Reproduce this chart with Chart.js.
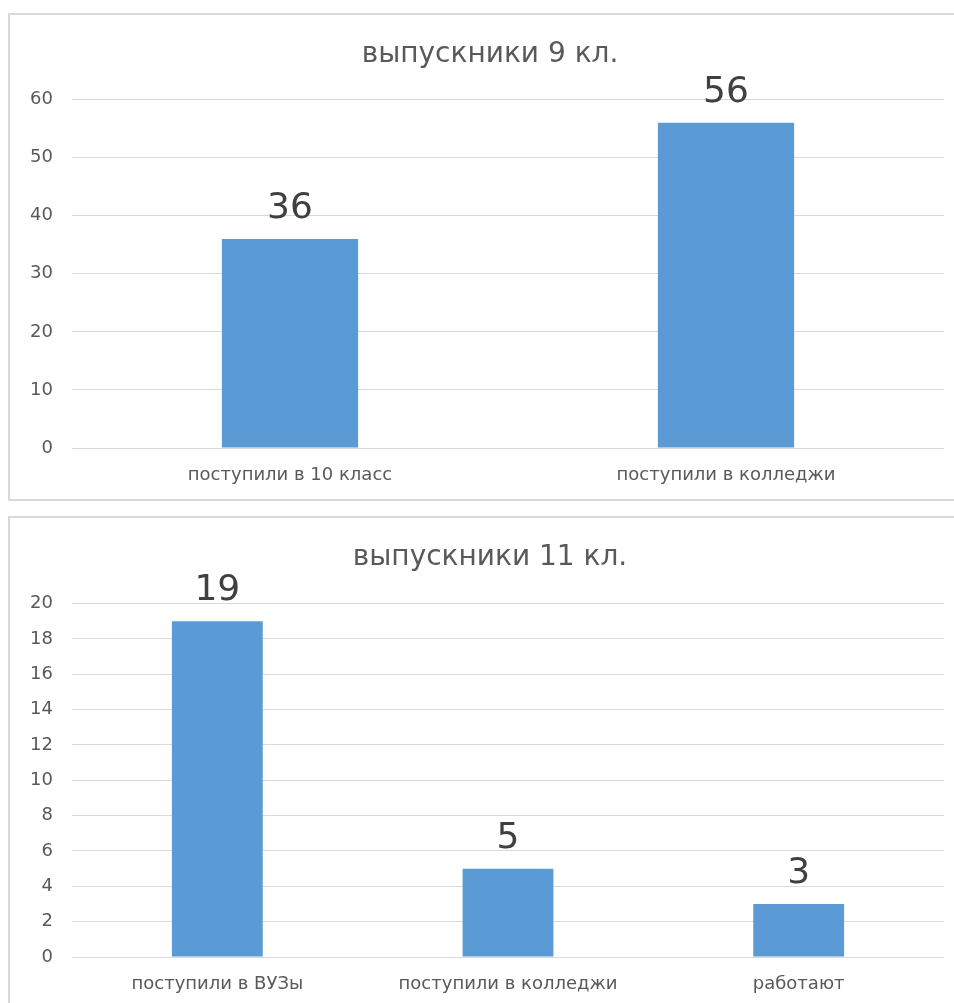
<!DOCTYPE html>
<html>
<head>
<meta charset="utf-8">
<script src="https://cdn.jsdelivr.net/npm/chart.js@4.4.1/dist/chart.umd.min.js"></script>
<style>
  body { margin: 0; background: #fff; overflow: hidden; }
  .box { position: absolute; left: 8px; border: 2px solid #d9d9d9; background: #fff; }
  #box9 { top: 13px; width: 948px; height: 484px; }
  #box11 { top: 516px; width: 948px; height: 490px; }
</style>
</head>
<body>
<div class="box" id="box9"><canvas id="chart9"></canvas></div>
<div class="box" id="box11"><canvas id="chart11"></canvas></div>
<script>
// выпускники 9 кл.
const categories9 = ['поступили в 10 класс', 'поступили в колледжи'];
const values9 = [36, 56];
const yTicks9 = [0, 10, 20, 30, 40, 50, 60];

// выпускники 11 кл.
const categories11 = ['поступили в ВУЗы', 'поступили в колледжи', 'работают'];
const values11 = [19, 5, 3];
const yTicks11 = [0, 2, 4, 6, 8, 10, 12, 14, 16, 18, 20];

const textColor = '#595959';
const fontFamily = "'DejaVu Sans', sans-serif";

// value labels above the bars
const barLabels = {
    id: 'barLabels',
    afterLayout(chart) {
        // title sits a little right of the canvas centre, like the original
        if (chart.titleBlock) chart.titleBlock.left += 26;
    },
    afterDatasetsDraw(chart) {
        const ctx = chart.ctx;
        const meta = chart.getDatasetMeta(0);
        ctx.save();
        ctx.font = '36px ' + fontFamily;
        ctx.fillStyle = '#404040';
        ctx.textAlign = 'center';
        ctx.textBaseline = 'alphabetic';
        meta.data.forEach((bar, i) => {
            ctx.fillText(chart.data.datasets[0].data[i], bar.x, bar.y - 21);
        });
        ctx.restore();
    }
};

function makeChart(id, title, labels, values, yTicks, titlePad) {
    const step = yTicks[1] - yTicks[0];
    return new Chart(document.getElementById(id), {
        type: 'bar',
        data: {
            labels: labels,
            datasets: [{
                data: values,
                backgroundColor: '#5b9bd5',
                categoryPercentage: 0.625,
                barPercentage: 0.5
            }]
        },
        options: {
            responsive: true,
            maintainAspectRatio: false,
            animation: false,
            layout: { padding: { left: 0, right: 14, top: 0, bottom: 14 } },
            plugins: {
                legend: { display: false },
                tooltip: { enabled: false },
                title: {
                    display: true,
                    text: title,
                    color: textColor,
                    font: { family: fontFamily, size: 28, weight: 'normal' },
                    padding: titlePad
                }
            },
            scales: {
                x: {
                    afterFit(scale) { scale.height = 37; },
                    grid: { display: false, drawTicks: false },
                    border: { display: false },
                    ticks: { color: textColor, font: { family: fontFamily, size: 18 }, padding: 17, maxRotation: 0 }
                },
                y: {
                    min: yTicks[0],
                    max: yTicks[yTicks.length - 1],
                    afterBuildTicks(scale) {
                        scale.ticks = yTicks.map(v => ({ value: v }));
                    },
                    afterFit(scale) { scale.width = 62; },
                    grid: { color: '#d9d9d9', lineWidth: 1, drawTicks: false },
                    border: { display: false },
                    ticks: { color: textColor, font: { family: fontFamily, size: 18 }, padding: 19, stepSize: step }
                }
            }
        },
        plugins: [barLabels]
    });
}

makeChart('chart9', 'выпускники 9 кл.', categories9, values9, yTicks9, { top: 23, bottom: 28 });
makeChart('chart11', 'выпускники 11 кл.', categories11, values11, yTicks11, { top: 23, bottom: 29 });
</script>
</body>
</html>
